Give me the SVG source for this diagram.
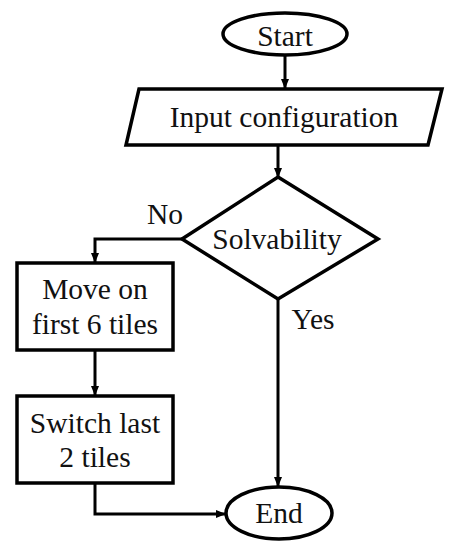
<svg xmlns="http://www.w3.org/2000/svg" width="454" height="550" viewBox="0 0 454 550">
<style>
.s{fill:#fff;stroke:#000;stroke-width:3.5}
.t{font-family:"Liberation Serif","Times New Roman",serif;font-size:29.5px;fill:#111;text-anchor:middle}
.c{fill:none;stroke:#000;stroke-width:3}
</style>
<defs>
<marker id="a" markerWidth="10" markerHeight="10" refX="9" refY="5" orient="auto" markerUnits="userSpaceOnUse">
<path d="M0,1 L10,5 L0,9 Z" fill="#000"/>
</marker>
</defs>
<rect width="454" height="550" fill="#fff"/>
<g id="connectors">
<path class="c" d="M285,55 V88" marker-end="url(#a)"/>
<path class="c" d="M278,145 V177" marker-end="url(#a)"/>
<path class="c" d="M182,239 H95 V262" marker-end="url(#a)"/>
<path class="c" d="M95,350 V395" marker-end="url(#a)"/>
<path class="c" d="M278,299 V486" marker-end="url(#a)"/>
<path class="c" d="M95,483 V514 H225" marker-end="url(#a)"/>
<text class="t" x="165" y="224">No</text>
<text class="t" x="313" y="329">Yes</text>
</g>
<g id="start">
<ellipse class="s" cx="285" cy="34" rx="62" ry="21"/>
<text class="t" x="285" y="46">Start</text>
</g>
<g id="input">
<polygon class="s" points="139,89 442,89 428,145 126,145"/>
<text class="t" x="284" y="127">Input configuration</text>
</g>
<g id="solvability">
<polygon class="s" points="278,177 378,239 278,299 182,239"/>
<text class="t" x="277" y="249">Solvability</text>
</g>
<g id="move">
<rect class="s" x="17" y="263" width="156" height="87"/>
<text class="t" x="95" y="299">Move on</text>
<text class="t" x="95" y="334">first 6 tiles</text>
</g>
<g id="switch">
<rect class="s" x="17" y="396" width="156" height="87"/>
<text class="t" x="95" y="433">Switch last</text>
<text class="t" x="95" y="467">2 tiles</text>
</g>
<g id="end">
<ellipse class="s" cx="279" cy="513" rx="53" ry="26"/>
<text class="t" x="279" y="523">End</text>
</g>
</svg>
